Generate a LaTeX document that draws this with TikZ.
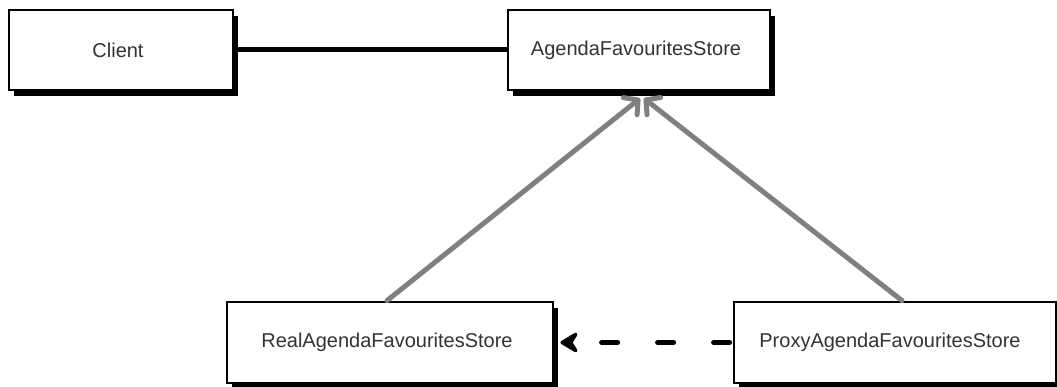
\documentclass[tikz,border=0pt]{standalone}
\usepackage{fontspec}
\setmainfont{Liberation Sans}
\usetikzlibrary{arrows.meta,shadows,calc}
\begin{document}
\begin{tikzpicture}[x=1pt,y=1pt,
  box/.style={draw=black, line width=2.8pt, fill=white, rectangle,
    minimum height=80pt, text=black!80,
    font=\fontsize{20}{24}\selectfont,
    drop shadow={shadow xshift=5pt, shadow yshift=-6pt, opacity=1, fill=black}},
  assoc/.style={line width=5pt, draw=black},
  inherit/.style={line width=5pt, draw=gray, line cap=round,
    -{Straight Barb[length=10pt,width=22pt,line cap=round,line join=round]}},
  depend/.style={line width=5pt, draw=black, dash pattern=on 16pt off 40pt,
    line cap=round, -{Stealth[length=22pt,width=26pt,inset=8pt,round]}}]
\useasboundingbox (0,0) rectangle (1057,387);

% association between the client and the store interface
\coordinate (clientR) at (233,337);
\coordinate (agendaL) at (508,337);
\draw[assoc] (clientR) -- (agendaL);

% classes
\node[box, minimum width=224pt] (client) at (121,337) {\hspace{-6pt}Client};
\node[box, minimum width=262pt] (agenda) at (639,337) {\hspace{-6pt}AgendaFavouritesStore};
\node[box, minimum width=326pt, minimum height=81pt] (real) at (390,44.5) {\hspace{-6pt}RealAgendaFavouritesStore};
\node[box, minimum width=322pt, minimum height=81pt] (proxy) at (895,44.5) {\hspace{-10pt}ProxyAgendaFavouritesStore};

% generalisation arrows
\draw[inherit] ($(real.north)+(-3,0)$) -- ($(agenda.south)+(1,-7)$);
\draw[inherit] ($(proxy.north)+(7,0)$) -- ($(agenda.south)+(5,-7)$);

% dependency of the proxy on the real store
\draw[depend] ($(proxy.west)+(-3,0)$) -- ($(real.east)+(6,0)$);
\end{tikzpicture}
\end{document}
